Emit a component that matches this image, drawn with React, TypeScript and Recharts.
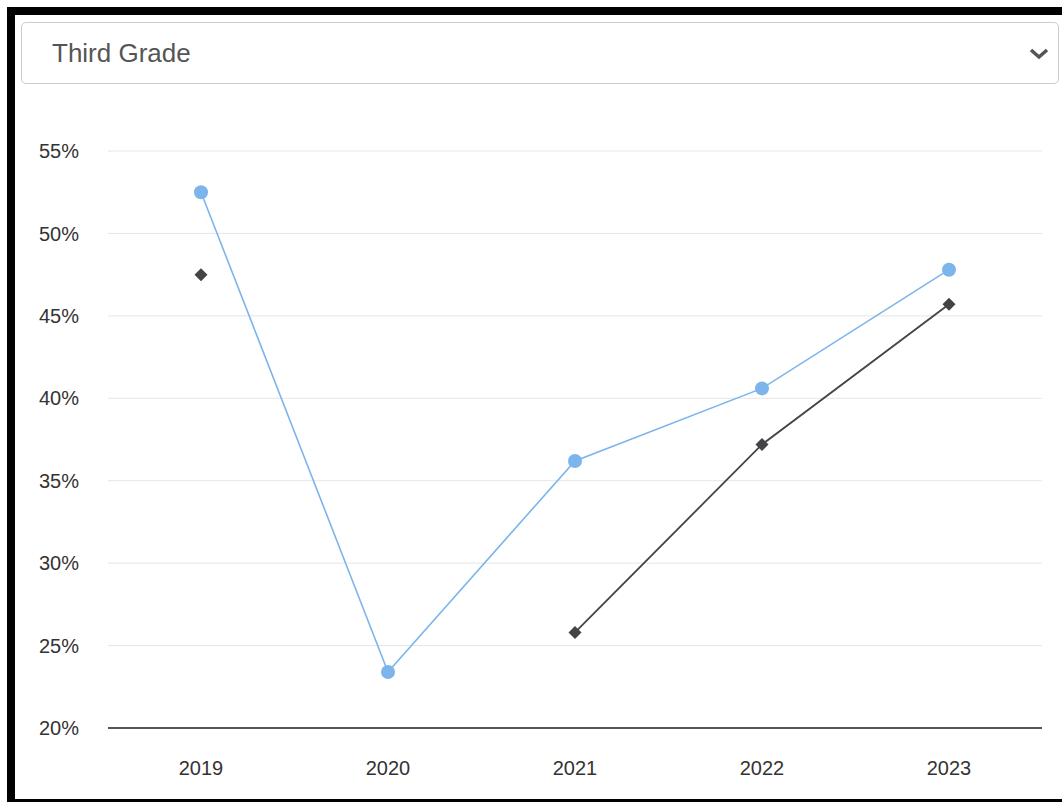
import React from "react";
import { LineChart, Line, XAxis, YAxis, CartesianGrid } from "recharts";

const years = ["2019", "2020", "2021", "2022", "2023"];
const schoolPct = [52.5, 23.4, 36.2, 40.6, 47.8];
const statePct: (number | null)[] = [47.5, null, 25.8, 37.2, 45.7];
const yTicks = [20, 25, 30, 35, 40, 45, 50, 55];

const data = years.map((year, i) => ({
  year,
  school: schoolPct[i],
  state: statePct[i],
}));

const FONT = '"Liberation Sans", Arial, sans-serif';

// diamond marker for the second series
const Diamond = (props: any) => {
  const { cx, cy, index } = props;
  if (cx == null || cy == null) return <g key={`d-${index}`} />;
  const r = 6.5;
  return (
    <polygon
      key={`d-${index}`}
      points={`${cx},${cy - r} ${cx + r},${cy} ${cx},${cy + r} ${cx - r},${cy}`}
      fill="#434348"
    />
  );
};

const App: React.FC = () => {
  return (
    <div
      style={{
        position: "absolute",
        left: 7,
        top: 7,
        width: 1047,
        height: 784,
        borderLeft: "8px solid #000",
        borderTop: "8px solid #000",
        borderBottom: "3px solid #000",
        background: "#fff",
        fontFamily: FONT,
        overflow: "hidden",
      }}
    >
      {/* grade picker */}
      <div
        style={{
          position: "absolute",
          left: 6,
          top: 7,
          width: 1038,
          height: 62,
          border: "1px solid #ccc",
          borderRadius: 5,
          boxSizing: "border-box",
          display: "flex",
          alignItems: "center",
          paddingLeft: 30,
          fontSize: 26,
          color: "#555",
        }}
      >
        Third Grade
        <svg
          width={22}
          height={14}
          style={{ position: "absolute", right: 8, top: 24 }}
        >
          <polyline
            points="3,3 11,10 19,3"
            fill="none"
            stroke="#555"
            strokeWidth={3.5}
          />
        </svg>
      </div>

      <div style={{ position: "absolute", left: 0, top: 80 }}>
        <LineChart
          width={1047}
          height={703}
          data={data}
          margin={{ top: 56, right: 20, bottom: 30, left: 0 }}
        >
          <CartesianGrid horizontal vertical={false} stroke="#e6e6e6" />
          <XAxis
            dataKey="year"
            padding={{ left: 93, right: 93 }}
            height={40}
            tickLine={false}
            tickSize={0}
            tickMargin={33}
            axisLine={{ stroke: "#555", strokeWidth: 2 }}
            tick={{ fill: "#333", fontSize: 20, fontFamily: FONT }}
          />
          <YAxis
            width={93}
            domain={[20, 55]}
            ticks={yTicks}
            tickFormatter={(v) => `${v}%`}
            axisLine={false}
            tickLine={false}
            tickSize={0}
            tickMargin={29}
            tick={{ fill: "#333", fontSize: 20, fontFamily: FONT }}
          />
          <Line
            dataKey="school"
            name="School"
            stroke="#7cb5ec"
            strokeWidth={1.6}
            dot={{ r: 7, fill: "#7cb5ec", stroke: "none" }}
            activeDot={false}
            isAnimationActive={false}
          />
          <Line
            dataKey="state"
            name="State"
            stroke="#434348"
            strokeWidth={1.8}
            dot={Diamond}
            activeDot={false}
            connectNulls={false}
            isAnimationActive={false}
          />
        </LineChart>
      </div>
    </div>
  );
};

export default App;
